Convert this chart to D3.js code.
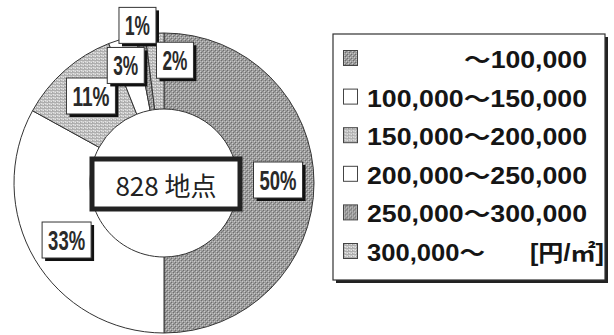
<!DOCTYPE html>
<html>
<head>
<meta charset="utf-8">
<script src="https://cdn.jsdelivr.net/npm/d3@7"></script>
<style>
  html, body { margin: 0; padding: 0; background: #fff; }
  svg { display: block; }
</style>
</head>
<body>
<svg id="chart" width="614" height="335"></svg>
<script>
// Land price bands [円/㎡] and share of survey points in each band (%)
const categories = ["～100,000", "100,000～150,000", "150,000～200,000", "200,000～250,000", "250,000～300,000", "300,000～"];
const shares = [50, 33, 11, 3, 1, 2];
const unitLabel = "[円/㎡]";
const totalLabel = "828 地点";

// Fill style per band: dark texture, white, light texture, alternating
const fillKinds = ["dark", "white", "light", "white", "dark", "light"];
// Hand-placed nudges for the crowded percentage boxes near the top
const labelNudge = [[2, -3], [-1, 0], [1, -3], [-7, -10], [-9, -47], [18, -11]];
// Set widths of the legend texts (wide gothic look)
const legendTextWidth = [123, 220, 220, 220, 220, 118];

const svg = d3.select("#chart");
const defs = svg.append("defs");

// Grainy gray textures
const dark = defs.append("pattern").attr("id", "pat-dark")
  .attr("patternUnits", "userSpaceOnUse").attr("width", 4).attr("height", 4);
dark.append("rect").attr("width", 4).attr("height", 4).attr("fill", "#9c9c9c");
[[0, 0, "#cacaca"], [2, 2, "#cacaca"], [1, 1, "#6e6e6e"], [3, 3, "#6e6e6e"], [2, 0, "#858585"], [0, 2, "#b5b5b5"]]
  .forEach(([x, y, c]) => dark.append("rect").attr("x", x).attr("y", y).attr("width", 1).attr("height", 1).attr("fill", c));

const light = defs.append("pattern").attr("id", "pat-light")
  .attr("patternUnits", "userSpaceOnUse").attr("width", 4).attr("height", 3);
light.append("rect").attr("width", 4).attr("height", 3).attr("fill", "#c8c8c8");
light.append("rect").attr("y", 0).attr("width", 4).attr("height", 1).attr("fill", "#aeaeae");
[[1, 1, "#e6e6e6"], [3, 2, "#e6e6e6"], [0, 2, "#a6a6a6"]]
  .forEach(([x, y, c]) => light.append("rect").attr("x", x).attr("y", y).attr("width", 1).attr("height", 1).attr("fill", c));

const fillOf = k => k === "dark" ? "url(#pat-dark)" : k === "light" ? "url(#pat-light)" : "#ffffff";

// Donut
const cx = 164, cy = 183, outerR = 150, innerR = 74;
const pie = d3.pie().sort(null).value(d => d).startAngle(0).endAngle(2 * Math.PI);
const arcs = pie(shares);
const arc = d3.arc().innerRadius(innerR).outerRadius(outerR);
const labelArc = d3.arc().innerRadius(112).outerRadius(112);

const g = svg.append("g").attr("transform", `translate(${cx},${cy})`);
g.selectAll("path.slice").data(arcs).join("path")
  .attr("class", "slice")
  .attr("d", arc)
  .attr("fill", (d, i) => fillOf(fillKinds[i]))
  .attr("stroke", "#333")
  .attr("stroke-width", 1);

// Total box in the hole
const tb = g.append("g");
tb.append("rect").attr("x", -72).attr("y", -24).attr("width", 148).attr("height", 50)
  .attr("fill", "#fff").attr("stroke", "#222").attr("stroke-width", 5);
tb.append("text").attr("x", 2).attr("y", 13).attr("text-anchor", "middle")
  .attr("font-family", "'Noto Sans CJK JP', sans-serif").attr("font-size", 26)
  .attr("fill", "#222").text(totalLabel);

// Percentage boxes with drop shadow
const labels = g.selectAll("g.lbl").data(arcs).join("g").attr("class", "lbl")
  .attr("transform", (d, i) => {
    const [x, y] = labelArc.centroid(d);
    return `translate(${x + labelNudge[i][0]},${y + labelNudge[i][1]})`;
  });
labels.each(function (d, i) {
  const t = shares[i] + "%";
  const digits = String(shares[i]).length;
  const tw = 12 * digits + 13;
  const bw = tw + 12, bh = 36;
  const s = d3.select(this);
  s.append("rect").attr("x", -bw / 2 + 3).attr("y", -bh / 2 + 3).attr("width", bw).attr("height", bh).attr("fill", "#111");
  s.append("rect").attr("x", -bw / 2).attr("y", -bh / 2).attr("width", bw).attr("height", bh)
    .attr("fill", "#fff").attr("stroke", "#333").attr("stroke-width", 1);
  s.append("text").attr("x", -tw / 2).attr("y", 10)
    .attr("font-family", "'Liberation Sans', Arial, sans-serif")
    .attr("font-weight", "bold").attr("font-size", 27).attr("fill", "#2a2a2a")
    .attr("textLength", tw).attr("lengthAdjust", "spacingAndGlyphs").text(t);
});

// Legend
const lg = svg.append("g");
lg.append("rect").attr("x", 336).attr("y", 37).attr("width", 272).attr("height", 246).attr("fill", "#222");
lg.append("rect").attr("x", 333).attr("y", 34).attr("width", 272).attr("height", 246)
  .attr("fill", "#fff").attr("stroke", "#333").attr("stroke-width", 1.2);

const rowY = d3.scalePoint().domain(d3.range(categories.length)).range([67, 260]);
const rows = lg.selectAll("g.row").data(categories).join("g").attr("class", "row")
  .attr("transform", (d, i) => `translate(0,${rowY(i)})`);
rows.append("rect").attr("x", 343.5).attr("y", -16.5).attr("width", 14).attr("height", 15)
  .attr("fill", (d, i) => fillOf(fillKinds[i])).attr("stroke", "#444").attr("stroke-width", 1);
const textStyle = sel => sel
  .attr("font-family", "'Liberation Sans', 'Noto Sans CJK JP', sans-serif")
  .attr("font-weight", "bold").attr("font-size", 23).attr("fill", "#151515")
  .attr("lengthAdjust", "spacingAndGlyphs");
rows.append("text")
  .attr("x", (d, i) => i === 0 ? 587 - legendTextWidth[0] : 367)
  .attr("y", 1)
  .call(textStyle)
  .attr("textLength", (d, i) => legendTextWidth[i])
  .text(d => d);
rows.filter((d, i) => i === categories.length - 1).append("text")
  .attr("x", 530).attr("y", 1).call(textStyle)
  .attr("textLength", 74)
  .text(unitLabel);
</script>
</body>
</html>
